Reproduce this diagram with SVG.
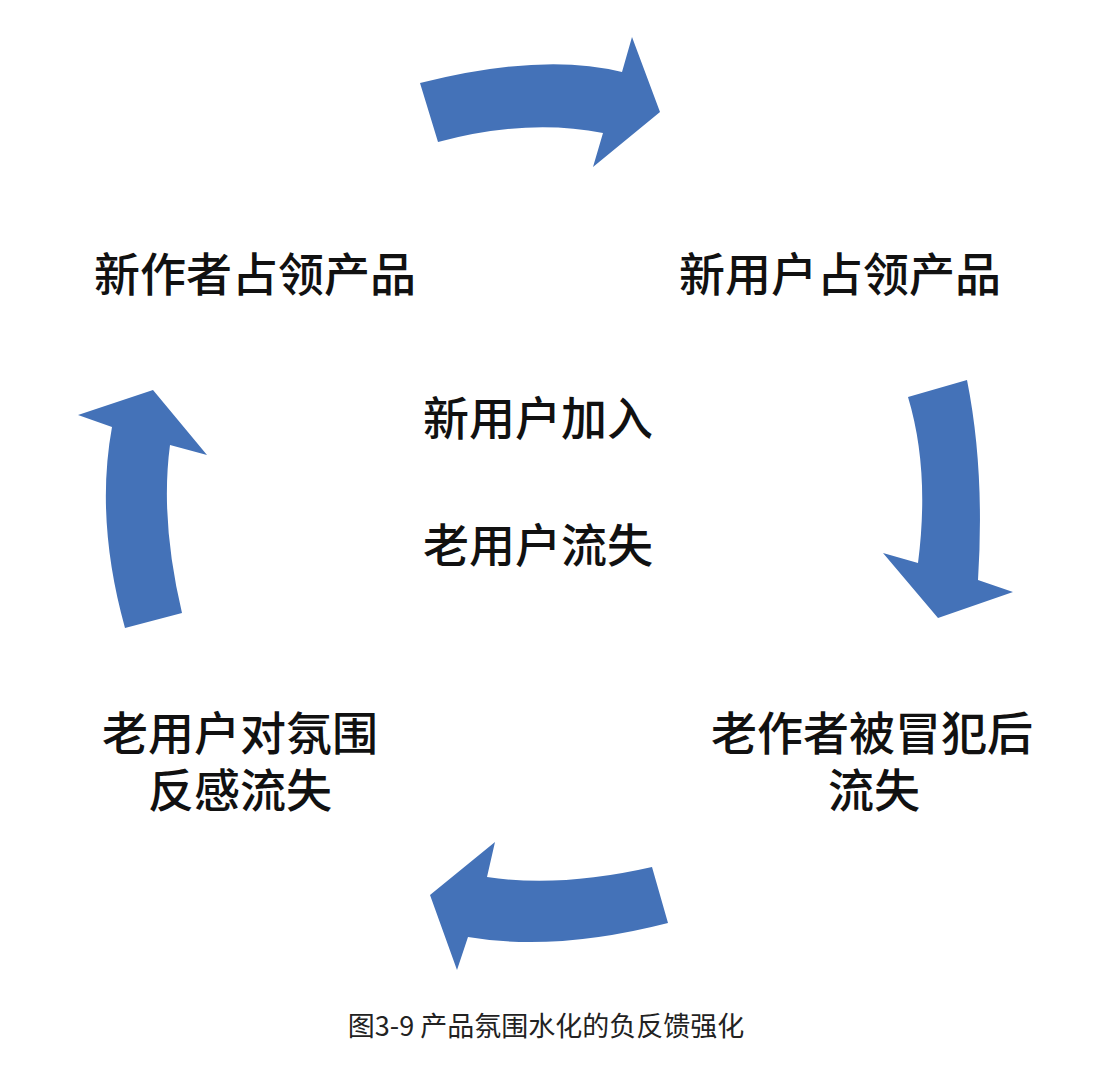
<svg xmlns="http://www.w3.org/2000/svg" width="1120" height="1070" viewBox="0 0 1120 1070">
<style>
.lbl{font-family:"Liberation Sans","Noto Sans CJK SC","Noto Sans CJK JP",sans-serif;font-size:46px;fill:#111;text-anchor:middle;font-weight:500}
.cap{font-family:"Noto Sans CJK SC","Noto Sans CJK JP",sans-serif;font-size:27px;fill:#222;text-anchor:middle}
.arr{fill:#4472B8}
</style>
<rect width="1120" height="1070" fill="#fff"/>
<g id="connectors">
<path class="arr" d="M420,83 Q543,52 622,72 L632,37 L660,112 L593,167 L603,133 Q527,118 438,142 Z"/>
<path class="arr" d="M908,397 L967,380 Q985,470 978,580 L1013,592 L938,618 L883,553 L918,563 Q930,470 908,397 Z"/>
<path class="arr" d="M652,867 L668,923 Q555,952 468,937 L457,970 L430,895 L495,842 L487,877 Q560,888 652,867 Z"/>
<path class="arr" d="M125,628 L182,613 Q160,520 170,445 L207,455 L153,390 L78,415 L112,427 Q95,520 125,628 Z"/>
</g>
<g id="node-new-author"><text class="lbl" x="255" y="291">新作者占领产品</text></g>
<g id="node-new-user"><text class="lbl" x="840" y="291">新用户占领产品</text></g>
<g id="node-center"><text class="lbl" x="538" y="435">新用户加入</text><text class="lbl" x="538" y="562">老用户流失</text></g>
<g id="node-old-user"><text class="lbl" x="240" y="750">老用户对氛围</text><text class="lbl" x="240" y="807">反感流失</text></g>
<g id="node-old-author"><text class="lbl" x="872" y="750">老作者被冒犯后</text><text class="lbl" x="874" y="807">流失</text></g>
<g id="caption"><text class="cap" x="546" y="1036">图3-9 产品氛围水化的负反馈强化</text></g>
</svg>
